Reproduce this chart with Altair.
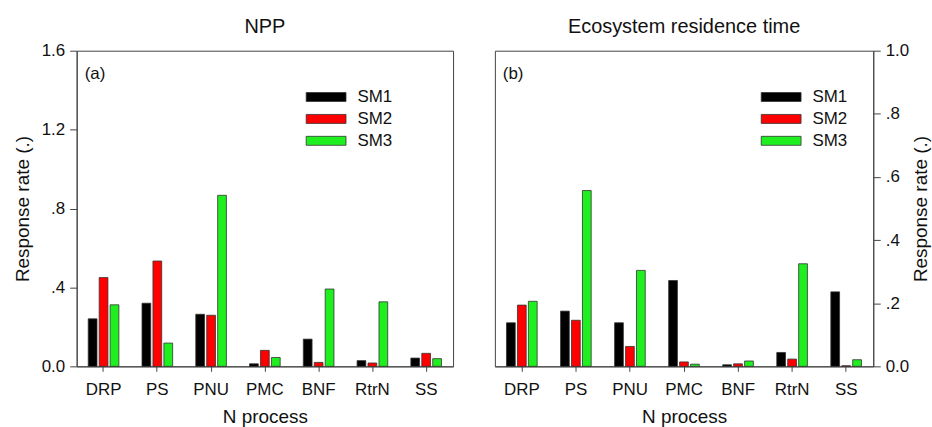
import altair as alt
import pandas as pd

categories = ["DRP", "PS", "PNU", "PMC", "BNF", "RtrN", "SS"]
series = ["SM1", "SM2", "SM3"]
colors = ["#000000", "#ff0000", "#1fee1f"]

npp_sm1 = [0.241, 0.320, 0.264, 0.013, 0.138, 0.029, 0.042]
npp_sm2 = [0.450, 0.534, 0.259, 0.081, 0.020, 0.017, 0.066]
npp_sm3 = [0.312, 0.118, 0.867, 0.045, 0.392, 0.327, 0.039]

ert_sm1 = [0.138, 0.175, 0.138, 0.272, 0.005, 0.044, 0.236]
ert_sm2 = [0.194, 0.146, 0.063, 0.014, 0.008, 0.023, 0.002]
ert_sm3 = [0.206, 0.557, 0.304, 0.007, 0.017, 0.325, 0.021]

npp_ticks = [0.0, 0.4, 0.8, 1.2, 1.6]
ert_ticks = [0.0, 0.2, 0.4, 0.6, 0.8, 1.0]


def table(s1, s2, s3):
    rows = []
    for name, vals in zip(series, [s1, s2, s3]):
        for c, v in zip(categories, vals):
            rows.append({"process": c, "model": name, "value": v})
    return pd.DataFrame(rows)


npp_df = table(npp_sm1, npp_sm2, npp_sm3)
ert_df = table(ert_sm1, ert_sm2, ert_sm3)

FONT = "Liberation Sans"
label_expr = ("datum.value == 0 ? '0.0' : (datum.value < 1 ? "
              "replace(format(datum.value, '.1f'), '0.', '.') : format(datum.value, '.1f'))")


def panel(df, title, ymax, ticks, orient, letter, lx, ly, w, tpad, tbase):
    x = alt.X("process:N", sort=categories, title="N process",
              scale=alt.Scale(paddingInner=0.43, paddingOuter=0.215),
              axis=alt.Axis(labelAngle=0, labelFontSize=17, titleFontSize=19,
                            titleFontWeight="normal",
                            labelPadding=10, titlePadding=10, tickSize=5,
                            tickColor="#444", domainColor="#444",
                            labelColor="#111", titleColor="#111",
                            labelFont=FONT, titleFont=FONT, grid=False))
    y = alt.Y("value:Q", title="Response rate (.)",
              scale=alt.Scale(domain=[0, ymax], nice=False, zero=True),
              axis=alt.Axis(orient=orient, values=ticks, labelExpr=label_expr,
                            labelFontSize=17, titleFontSize=19, tickSize=7,
                            titleFontWeight="normal",
                            labelPadding=5, titlePadding=tpad, titleAngle=270,
                            titleBaseline=tbase,
                            tickColor="#444", domainColor="#444",
                            labelColor="#111", titleColor="#111",
                            labelFont=FONT, titleFont=FONT, grid=False))
    bars = alt.Chart(df).mark_bar(stroke="#333", strokeWidth=0.8).encode(
        x=x,
        y=y,
        xOffset=alt.XOffset("model:N", sort=series,
                            scale=alt.Scale(paddingInner=0.2, paddingOuter=0)),
        color=alt.Color("model:N", sort=series,
                        scale=alt.Scale(domain=series, range=colors),
                        legend=alt.Legend(orient="none", legendX=lx, legendY=ly,
                                          title=None, padding=0,
                                          symbolType="M-4,-0.9H4V0.9H-4Z",
                                          symbolSize=100,
                                          symbolStrokeColor="#333",
                                          symbolStrokeWidth=0.8,
                                          symbolOpacity=1,
                                          labelFontSize=17, labelFont=FONT,
                                          labelColor="#111",
                                          labelOffset=23, rowPadding=4)),
    )
    lab = alt.Chart(pd.DataFrame({"t": [letter]})).mark_text(
        font=FONT, fontSize=17, align="left", baseline="middle", color="#111"
    ).encode(text="t:N", x=alt.value(8), y=alt.value(23))
    return alt.layer(bars, lab).properties(
        width=w, height=317,
        title=alt.Title(title, fontSize=20, font=FONT, fontWeight="normal",
                        color="#111", offset=5),
    )


left = panel(npp_df, "NPP", 1.6, npp_ticks, "left", "(a)", 242, 38, 378, 9, "bottom")
right = panel(ert_df, "Ecosystem residence time", 1.0, ert_ticks, "right", "(b)", 279, 38, 380, 3, "top")

chart = alt.hconcat(left, right, spacing=40).resolve_scale(
    x="independent", y="independent", color="independent"
).resolve_legend(color="independent").configure_view(
    stroke="#444", strokeWidth=1
).properties(padding={"left": 12, "top": 15, "right": 0, "bottom": 2})

chart.save("out.html", embed_options={"renderer": "svg", "actions": False})
